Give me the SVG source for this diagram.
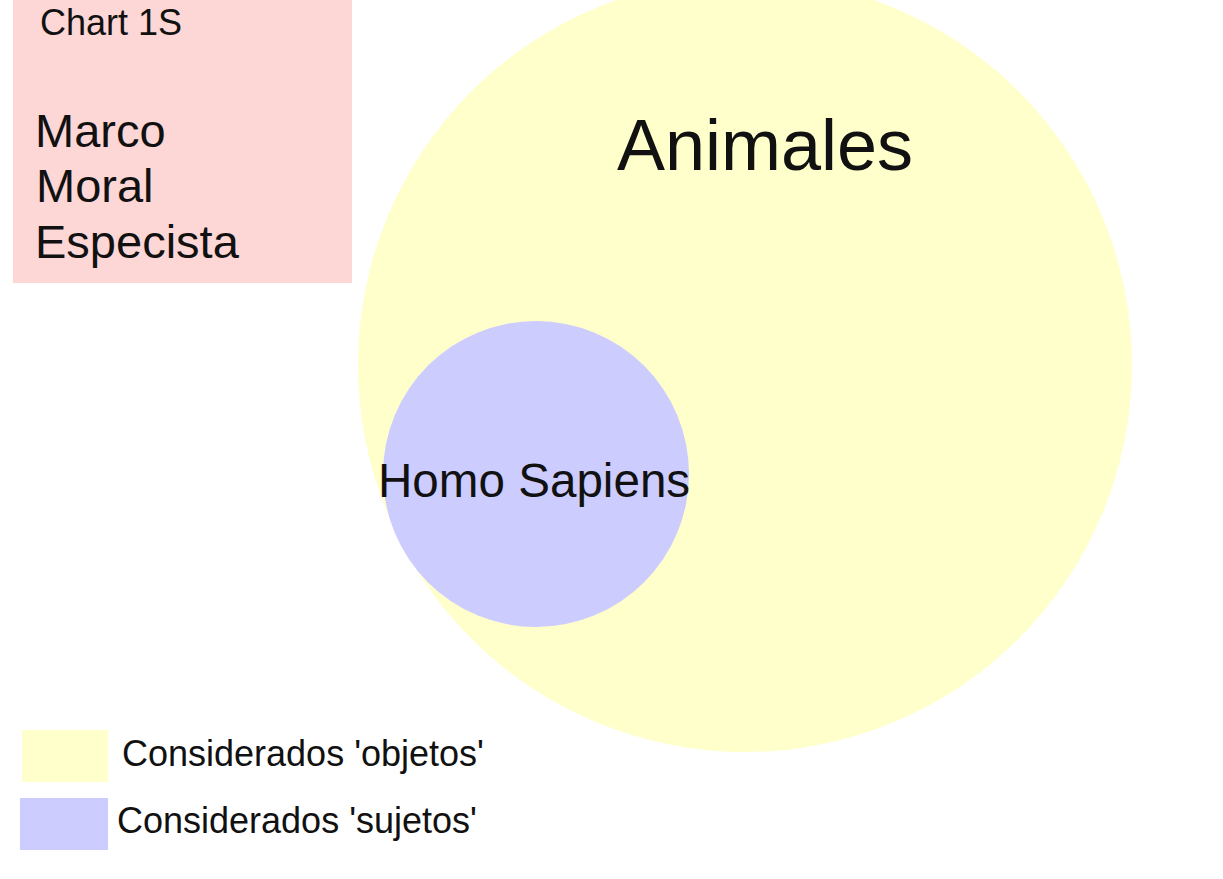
<svg xmlns="http://www.w3.org/2000/svg" width="1223" height="879" viewBox="0 0 1223 879">
<style>
text{font-family:"Liberation Sans",Arial,sans-serif;fill:#111}
.y{fill:#ffffcc}
.b{fill:#ccccff}
</style>
<rect width="1223" height="879" fill="#ffffff"/>
<g id="title-box">
<rect x="13" y="0" width="339" height="283" fill="#fdd6d6"/>
<text x="40" y="35" font-size="36">Chart 1S</text>
<text x="35" y="147" font-size="47">Marco</text>
<text x="36" y="202" font-size="47">Moral</text>
<text x="35" y="258" font-size="47">Especista</text>
</g>
<g id="animales">
<circle class="y" cx="745" cy="365" r="387"/>
<text x="617" y="170" font-size="72">Animales</text>
</g>
<g id="homo-sapiens">
<circle class="b" cx="536" cy="474" r="153"/>
<text x="378" y="497" font-size="47.6">Homo Sapiens</text>
</g>
<g id="legend">
<rect class="y" x="22" y="730" width="86" height="52"/>
<text x="122" y="766" font-size="36">Considerados 'objetos'</text>
<rect class="b" x="20" y="798" width="88" height="52"/>
<text x="117" y="833" font-size="36">Considerados 'sujetos'</text>
</g>
<g id="connectors"></g>
</svg>
